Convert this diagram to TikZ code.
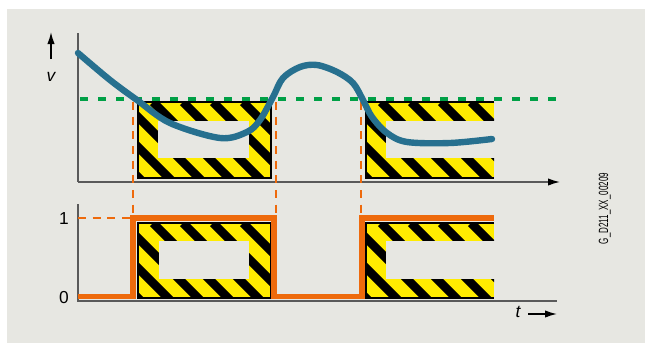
\documentclass[tikz,border=0pt]{standalone}
\usepackage{graphicx}
\usepackage{fontspec}
\setmainfont{Liberation Sans}
\usetikzlibrary{arrows.meta, positioning, calc}
\definecolor{sbg}{HTML}{E7E7E2}
\definecolor{sblue}{HTML}{27708F}
\definecolor{sorange}{HTML}{EE6A0C}
\definecolor{sgreen}{HTML}{00A046}
\definecolor{syellow}{HTML}{FFEC00}
\definecolor{saxis}{HTML}{5A5A5A}
\tikzset{
  axisline/.style={saxis, line width=1pt},
  axisarr/.style={black, line width=1pt, -{Latex[length=9pt, width=5.5pt]}},
  speed/.style={sblue, line width=4.8pt, line cap=round},
  signal/.style={sorange, line width=3.8pt},
  sigdash/.style={sorange, line width=2pt, dash pattern=on 6pt off 5pt},
  limit/.style={sgreen, line width=2.4pt, dash pattern=on 6pt off 7.5pt},
  lbl/.style={font=\fontsize{13}{13}\selectfont, inner sep=0pt},
  stripe/.style={black, line width=6.6pt},
  frame/.style={black, line width=0.8pt},
}

% hazard block: #1 = top-left corner, #2 = bottom-right corner
\newcommand{\hazard}[2]{%
  \fill[syellow] (#1) rectangle (#2);
  \begin{scope}
    \clip (#1) rectangle (#2);
    \foreach \s in {-105,-75,...,135}
      \draw[stripe] ($(#1)+(\s,0)$) -- ++(100,100);
  \end{scope}}

\begin{document}
\begin{tikzpicture}[x=0.75pt, y=-0.75pt]
  \useasboundingbox (0,0) rectangle (645,343);
  \fill[white] (0,0) rectangle (645,343);
  \fill[sbg] (7,9) rectangle (645,343);

  % axes corners
  \coordinate (uo) at (78,182);
  \coordinate (utop) at (78,33);
  \coordinate (uend) at (560,182);
  \coordinate (lo) at (78,301);
  \coordinate (ltop) at (78,204);
  \coordinate (lend) at (557,301);

  % Hazard blocks, upper plot
  \coordinate (ha1) at (138,102); \coordinate (hb1) at (271,178);
  \coordinate (ha2) at (366,102); \coordinate (hb2) at (494,178);
  \hazard{ha1}{hb1}
  \draw[frame] (ha1) rectangle (hb1);
  \fill[sbg] (158,121) rectangle (249,158);
  \hazard{ha2}{hb2}
  \draw[frame] (hb2 |- ha2) -- (ha2) -- (ha2 |- hb2) -- (hb2);
  \fill[sbg] (386,121) rectangle (495,158);

  % Hazard blocks, lower plot
  \coordinate (hc1) at (138,223); \coordinate (hd1) at (271,298);
  \coordinate (hc2) at (366,223); \coordinate (hd2) at (494,298);
  \hazard{hc1}{hd1}
  \draw[frame] (hc1) rectangle (hd1);
  \fill[sbg] (159,241) rectangle (249,279);
  \hazard{hc2}{hd2}
  \draw[frame] (hd2 |- hc2) -- (hc2) -- (hc2 |- hd2) -- (hd2);
  \fill[sbg] (386,241) rectangle (495,279);

  % Axes
  \draw[axisline] (utop) -- (uo);
  \draw[axisline] (uo) -- ($(uend)+(-10,0)$);
  \draw[axisarr] ($(uend)+(-11,0)$) -- (uend);
  \draw[axisline] (ltop) -- (lo) -- (lend);

  % Limit line and switching points
  \coordinate (g0) at (80,99);
  \coordinate (g1) at (560,99);
  \draw[limit] (g0) -- (g1);
  \coordinate (s1) at (133,218);
  \coordinate (s2) at (274,218);
  \coordinate (s3) at (362,218);
  \draw[sigdash] (133,102) -- (s1);
  \draw[sigdash] (276,102) -- (276,218);
  \draw[sigdash] (361,102) -- (361,218);
  \draw[sigdash] (lo |- s1) -- (s1);

  % Output signal
  \draw[signal] (78,296.5) -- (133,296.5) -- (s1) -- (s2) -- (274,296.5)
    -- (362,296.5) -- (s3) -- (494,218);

  % Speed curve
  \draw[speed] plot[smooth, tension=0.55] coordinates {
    (78,53) (110,80) (137,100) (170,123) (220,138) (247,132) (260,120)
    (273,97) (283,78) (300,67) (317,65) (337,72) (353,83) (363,100)
    (372,117) (387,133) (407,142) (450,143) (492,139)};

  % Labels
  \coordinate (va) at (51,59);
  \coordinate (vb) at (51,32);
  \draw[axisarr] (va) -- (vb);
  \node[lbl] (vlbl) at (51,77) {\itshape v};
  \node[lbl] (one) at (64,219) {1};
  \node[lbl] (zero) at (64,298) {0};
  \node[lbl] (tlbl) at (518,312) {\itshape t};
  \coordinate (ta) at (528,314);
  \coordinate (tb) at (557,314);
  \draw[axisarr] (ta) -- (tb);
  \node[font=\fontsize{10}{10}\selectfont, rotate=90, anchor=base, inner sep=0pt]
    (code) at (608,208.5) {\scalebox{0.6}[1]{G\_D211\_XX\_00209}};
\end{tikzpicture}
\end{document}
